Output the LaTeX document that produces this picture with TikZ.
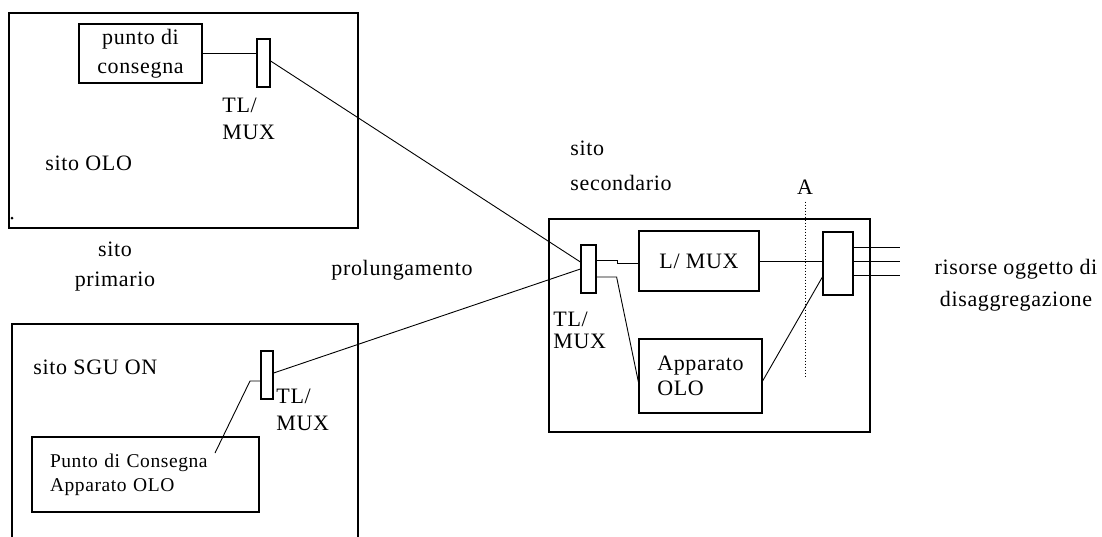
\documentclass[tikz,border=0pt]{standalone}
\usepackage{fontspec}
\setmainfont{Liberation Serif}[LetterSpace=3]
\usetikzlibrary{positioning}

\begin{document}
\begin{tikzpicture}[x=1pt, y=-1pt, line width=0.9pt,
    box/.style={rectangle, draw, line width=1.2pt, inner sep=0pt},
    lbl/.style={inner sep=0pt, align=left},
    font=\fontsize{22}{25}\selectfont]
    \useasboundingbox (0,0) rectangle (1102,536);
    \clip (0,0) rectangle (1102,536);

    % sito OLO
    \node[box, minimum width=349pt, minimum height=215pt] (olo) at (183.5,120.5) {};
    \node[box, minimum width=123pt, minimum height=59pt, align=center] (pdc) at (140.5,53.5) {punto di\\[4pt]consegna};
    \node[box, minimum width=13pt, minimum height=48pt] (tlmA) at (263.5,63) {};
    \node[lbl, anchor=west] (tlmAlbl) at (222,119) {TL/\\[2pt]MUX};
    \node[lbl, anchor=west] (olotxt) at (45,163) {sito OLO};
    \fill (12,218) circle (1.5pt);

    \node[inner sep=0pt, align=center] (primario) at (115,267) {sito\\[5pt]primario};
    \node[inner sep=0pt] (prol) at (402,270) {prolungamento};

    % sito SGU ON
    \node[box, minimum width=346pt, minimum height=240pt] (sgu) at (185,444) {};
    \node[lbl, anchor=west] (sgutxt) at (33,367) {sito SGU ON};
    \node[box, minimum width=12pt, minimum height=48pt] (tlmC) at (267,375) {};
    \node[lbl, anchor=west] (tlmClbl) at (276,410) {TL/\\[2pt]MUX};
    \node[box, minimum width=227pt, minimum height=75pt, text width=191pt, inner xsep=18pt,
          align=left, font=\fontsize{19.5}{24}\selectfont] (pdcsgu) at (145.5,474.5) {Punto di Consegna\\Apparato OLO};
    \coordinate (tap) at (215,453);

    % sito secondario
    \node[box, minimum width=321pt, minimum height=213pt] (sec) at (709.5,325.5) {};
    \node[lbl, anchor=west] (sectxt) at (570,166) {sito\\[10pt]secondario};
    \node[box, minimum width=15pt, minimum height=48pt] (tlmB) at (588.5,269) {};
    \node[lbl, anchor=west] (tlmBlbl) at (553,330) {TL/\\[-3pt]MUX};
    \node[box, minimum width=120pt, minimum height=60pt] (lmux) at (699,261) {L/ MUX};
    \node[box, minimum width=123pt, minimum height=74pt, align=left] (app) at (700.5,376) {Apparato\\OLO};
    \node[box, minimum width=30pt, minimum height=63pt] (mux2) at (838,263.5) {};
    \node[inner sep=0pt] (lblA) at (805,187) {A};
    \coordinate (Aend) at (805,378);
    \node[inner sep=0pt, align=center] (ris) at (1016,285) {risorse oggetto di\\[7pt]disaggregazione};

    % collegamenti
    \draw (pdc.east) -- (pdc.east -| tlmA.west);
    \draw ([yshift=2pt]tlmA.east) -- ([yshift=7pt]tlmB.west);
    \draw ([yshift=2pt]tlmC.east) -- (tlmB.west);
    \draw (tap) -- ++(35,-72) -- ([yshift=-6pt]tlmC.west);
    \draw ([yshift=9pt]tlmB.east) -- ++(21,0) |- ([yshift=-2pt]lmux.west);
    \draw ([yshift=-8pt]tlmB.east) -- ++(20,0) -- ([yshift=-6pt]app.west);
    \draw (lmux.east) -- (lmux.east -| mux2.west);
    \draw ([yshift=-5pt]app.east) -- ([yshift=-13.5pt]mux2.west);
    \foreach \dy in {16.5, 2.5, -11.5}
        \draw ([yshift=\dy pt]mux2.east) -- ++(46,0);
    \draw[dotted, line width=1pt] ([yshift=-7pt]lblA.south) -- (Aend);
\end{tikzpicture}
\end{document}
